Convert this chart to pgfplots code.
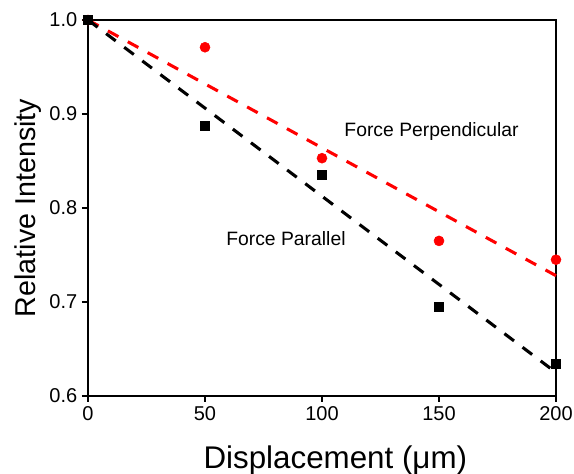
\documentclass[border=0pt]{standalone}
\usepackage{pgfplots}
\pgfplotsset{compat=1.18}
\usepackage{fontspec}
\setmainfont{Liberation Sans}
\definecolor{myred}{RGB}{255,0,0}
\begin{document}
\begin{tikzpicture}
\begin{axis}[
  scale only axis, width=351pt, height=282pt,
  xmin=0, xmax=200, ymin=0.6, ymax=1.0,
  xtick={0,50,100,150,200}, ytick={0.6,0.7,0.8,0.9,1.0},
  tick align=outside, tick pos=left,
  major tick length=4.5pt,
  axis line style={line width=1.5pt},
  every tick/.style={black, line width=1.5pt},
  /pgf/number format/assume math mode=true,
  yticklabel style={/pgf/number format/fixed, /pgf/number format/fixed zerofill, /pgf/number format/precision=1, font=\fontsize{15}{17}\selectfont},
  xticklabel style={font=\fontsize{15}{17}\selectfont},
  xlabel={Displacement (μm)}, ylabel={Relative Intensity},
  xlabel style={font=\fontsize{23.5}{26}\selectfont, yshift=-12pt, xshift=10pt},
  ylabel style={font=\fontsize{21.5}{24}\selectfont, yshift=-1pt},
  clip=false,
]
\addplot[myred, line width=2.3pt, dash pattern=on 9pt off 8pt] coordinates {(0,1.0) (200,0.728)};
\addplot[black, line width=2.3pt, dash pattern=on 9pt off 8pt] coordinates {(0,1.0) (200,0.625)};
\addplot[only marks, mark=*, mark size=3.75pt, color=myred, mark options={fill=myred, draw=myred}] coordinates {(0,1.0) (50,0.971) (100,0.853) (150,0.765) (200,0.745)};
\addplot[only marks, mark=square*, mark size=3.4pt, color=black] coordinates {(0,1.0) (50,0.887) (100,0.835) (150,0.695) (200,0.634)};
\node[anchor=west, inner sep=0pt, font=\fontsize{14.5}{16}\selectfont] at (axis cs:109.5,0.881) {Force Perpendicular};
\node[anchor=west, inner sep=0pt, font=\fontsize{14.5}{16}\selectfont] at (axis cs:59,0.767) {Force Parallel};
\end{axis}
\pgfresetboundingbox
\path (-66pt,-58.5pt) rectangle (364.5pt,297pt);
\end{tikzpicture}
\end{document}
